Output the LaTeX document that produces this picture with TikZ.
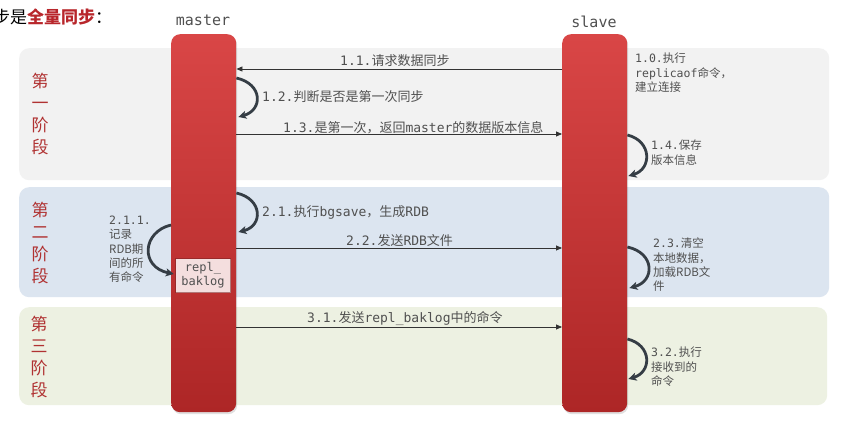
\documentclass[tikz,border=0pt]{standalone}
\usepackage{fontspec}
\setmainfont{Noto Sans CJK SC}
\setmonofont{DejaVu Sans Mono}
\usetikzlibrary{arrows.meta}
\definecolor{ph1}{HTML}{F2F2F2}
\definecolor{ph2}{HTML}{DCE5F0}
\definecolor{ph3}{HTML}{EDF1E2}
\definecolor{barTop}{HTML}{D94646}
\definecolor{barBot}{HTML}{AD2626}
\definecolor{phred}{HTML}{B03232}
\definecolor{titlered}{HTML}{B8262B}
\definecolor{txt}{HTML}{505050}
\definecolor{msgline}{HTML}{333333}
\definecolor{loopc}{HTML}{353D45}
\definecolor{rbfill}{HTML}{F4DEDE}
\begin{document}
\begin{tikzpicture}[x=1pt,y=-1pt,
  phase/.style={rounded corners=10pt, draw=none, anchor=north west, inner sep=0pt},
  bar/.style={rounded corners=9pt, draw=none, top color=barTop, bottom color=barBot, anchor=north west, inner sep=0pt, minimum width=65pt, minimum height=378pt},
  barshadow/.style={rounded corners=9pt, fill=black, opacity=0.12, draw=none, anchor=north west, inner sep=0pt, minimum width=65pt, minimum height=378pt},
  phaselbl/.style={font=\fontsize{17}{22}\selectfont, text=phred, align=center, inner sep=0pt},
  lbl/.style={font=\fontsize{13}{15}\selectfont, text=txt, anchor=west, inner sep=0pt},
  side/.style={font=\fontsize{11.5}{14.2}\selectfont, text=txt, anchor=north west, align=left, inner sep=0pt},
  role/.style={font=\ttfamily\fontsize{15}{17}\selectfont, text=txt, inner sep=0pt},
  msg/.style={draw=msgline, line width=0.8pt, -{Triangle[length=6pt,width=5pt]}},
  loopar/.style={draw=loopc, line width=2.8pt, -{Stealth[length=8pt,width=8pt,inset=2pt]}}
]
\useasboundingbox (0,0) rectangle (845,430);
\clip (0,0) rectangle (845,430);
\fill[white] (0,0) rectangle (845,430);

% title
\node[anchor=west, inner sep=0pt, font=\fontsize{17}{20}\selectfont, text=black] (title) at (-7,17)
  {步是\textcolor{titlered}{\bfseries 全量同步}：};

% phase boxes
\node[phase, fill=ph1, minimum width=810pt, minimum height=132pt] (p1) at (19,48) {};
\node[phase, fill=ph2, minimum width=810pt, minimum height=110pt] (p2) at (19,187) {};
\node[phase, fill=ph3, minimum width=808pt, minimum height=98pt] (p3) at (19,307) {};

\node[phaselbl] (l1) at (40,114) {第\\一\\阶\\段};
\node[phaselbl] (l2) at (40,243) {第\\二\\阶\\段};
\node[phaselbl] (l3) at (39,357) {第\\三\\阶\\段};

% bars
\node[barshadow] (ms) at (172,36) {};
\node[barshadow] (ss) at (563,36) {};
\node[bar] (mbar) at (171,34) {};
\node[bar] (sbar) at (562,34) {};
\node[role] (mname) at (203,20) {master};
\node[role] (sname) at (594,22) {slave};

% repl_baklog
\node[draw=phred!70!black, draw opacity=0.55, line width=1.4pt, fill=rbfill, minimum width=55pt, minimum height=34pt, inner sep=0pt, align=center, font=\ttfamily\fontsize{12}{14}\selectfont, text=txt] (rb) at (203,275.5) {repl\_\\baklog};

% phase 1
\draw[msg] (sbar.west |- 0,69) -- (mbar.east |- 0,69);
\node[lbl] (t11) at (340,61) {\texttt{1.1.}请求数据同步};
\draw[loopar] (mbar.east |- 0,78) .. controls (263,84) and (263,110) .. ([xshift=2pt]mbar.east |- 0,117);
\node[lbl] (t12) at (262,97) {\texttt{1.2.}判断是否是第一次同步};
\draw[msg] (mbar.east |- 0,134) -- (sbar.west |- 0,134);
\node[lbl] (t13) at (283,128) {\texttt{1.3.}是第一次，返回\texttt{master}的数据版本信息};
\node[side] (t10) at (635,53) {\texttt{1.0.}执行\\\texttt{replicaof}命令，\\建立连接};
\draw[loopar] (sbar.east |- 0,135) .. controls (652,141) and (652,169) .. ([xshift=1pt]sbar.east |- 0,176);
\node[side] (t14) at (651,140) {\texttt{1.4.}保存\\版本信息};

% phase 2
\draw[loopar] (mbar.east |- 0,193) .. controls (263,199) and (263,226) .. ([xshift=2pt]mbar.east |- 0,232);
\node[lbl] (t21) at (262,212) {\texttt{2.1.}执行\texttt{bgsave}，生成\texttt{RDB}};
\draw[msg] (mbar.east |- 0,248) -- (sbar.west |- 0,248);
\node[lbl] (t22) at (346,241) {\texttt{2.2.}发送\texttt{RDB}文件};
\draw[loopar] (mbar.west |- 0,225) .. controls (142,232) and (140,267) .. ([xshift=-1pt]rb.west |- 0,274);
\node[side] (t211) at (109,216) {\texttt{2.1.1.}\\记录\\RDB期\\间的所\\有命令};
\draw[loopar] (sbar.east |- 0,247) .. controls (655,253) and (655,281) .. ([xshift=2pt]sbar.east |- 0,288);
\node[side] (t23) at (653,238) {\texttt{2.3.}清空\\本地数据，\\加载RDB文\\件};

% phase 3
\draw[msg] (mbar.east |- 0,327) -- (sbar.west |- 0,327);
\node[lbl] (t31) at (307,318) {\texttt{3.1.}发送\texttt{repl\_baklog}中的命令};
\draw[loopar] (sbar.east |- 0,339) .. controls (652,345) and (652,372) .. ([xshift=1pt]sbar.east |- 0,379);
\node[side] (t32) at (651,347) {\texttt{3.2.}执行\\接收到的\\命令};
\end{tikzpicture}
\end{document}
